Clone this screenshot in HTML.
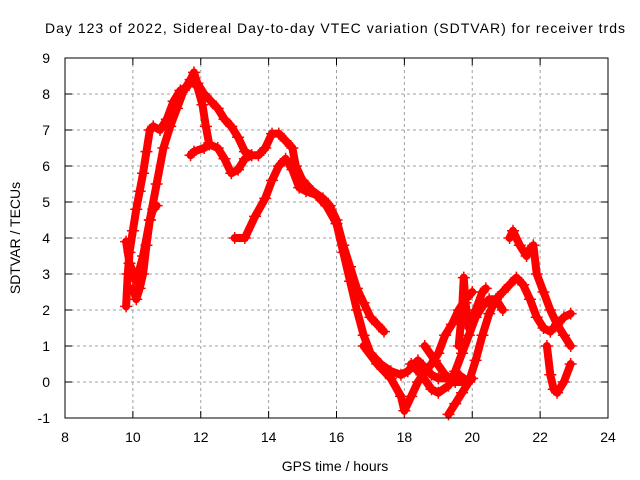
<!DOCTYPE html>
<html><head><meta charset="utf-8"><style>
body{margin:0;background:#fff;}
svg{display:block;font-family:"Liberation Sans",sans-serif;}
</style></head><body>
<svg id="chart" width="640" height="480" viewBox="0 0 640 480">
<text x="335" y="33" font-size="14" text-anchor="middle" textLength="580">Day 123 of 2022, Sidereal Day-to-day VTEC variation (SDTVAR) for receiver trds</text>
<text x="0" y="0" font-size="14" text-anchor="middle" transform="translate(20,238) rotate(-90)">SDTVAR / TECUs</text>
<text x="335" y="471" font-size="14" text-anchor="middle">GPS time / hours</text>
<g id="grid"></g><g id="ticks"></g><g id="marks"></g>
<rect x="65" y="58" width="543" height="360" fill="none" stroke="#000" stroke-width="1"/>
</svg>
<script>
const xTicks=[8,10,12,14,16,18,20,22,24];
const yTicks=[-1,0,1,2,3,4,5,6,7,8,9];
const track1=[[10.0,2.6],[10.1,2.3],[10.2,2.6],[10.3,3.0],[10.4,3.8],[10.5,4.5],[10.6,4.8],[10.7,4.9]];
const track2=[[9.8,2.1],[9.85,3.0],[9.9,3.6],[10.0,4.2],[10.1,4.8],[10.2,5.3],[10.3,5.8],[10.4,6.4],[10.5,7.0],[10.6,7.1],[10.8,7.0],[11.0,7.3],[11.2,7.8],[11.4,8.1],[11.6,8.2],[11.8,8.6],[11.9,8.3],[12.1,8.0],[12.3,7.8],[12.5,7.6],[12.7,7.3],[12.9,7.1],[13.1,6.8],[13.3,6.4],[13.5,6.3],[13.7,6.3],[13.9,6.5],[14.1,6.9],[14.3,6.9],[14.5,6.7],[14.7,6.5],[14.8,6.0],[15.0,5.6],[15.3,5.3],[15.6,5.1],[15.8,4.9],[16.0,4.5],[16.2,3.8],[16.4,3.2],[16.6,2.6],[16.8,2.2],[17.0,1.8],[17.2,1.6],[17.4,1.4]];
const track3=[[9.8,3.9],[9.9,3.3],[10.1,2.8],[10.3,3.5],[10.5,4.5],[10.7,5.5],[10.9,6.5],[11.1,7.1],[11.3,7.6],[11.5,8.1],[11.7,8.4],[11.9,8.2],[12.05,7.7],[12.15,7.1],[12.25,6.6],[12.1,6.5],[11.8,6.4],[11.7,6.3]];
const track4=[[12.25,6.6],[12.5,6.5],[12.7,6.2],[12.9,5.8],[13.1,5.9],[13.3,6.2],[13.5,6.3]];
const track5=[[13.0,4.0],[13.3,4.0],[13.6,4.6],[13.9,5.1],[14.1,5.6],[14.3,6.0],[14.5,6.2],[14.7,5.9],[14.9,5.4],[15.1,5.3],[15.4,5.2],[15.7,4.9],[16.0,4.4],[16.2,3.6],[16.4,2.8],[16.6,2.0],[16.8,1.3],[17.0,0.8],[17.3,0.5],[17.6,0.3],[17.9,0.2],[18.1,0.3],[18.4,0.6],[18.6,0.4],[18.8,0.2],[19.0,0.1],[19.3,0.1],[19.6,0.2],[19.9,0.0]];
const track6=[[16.8,1.0],[17.2,0.5],[17.6,0.1],[17.9,-0.4],[18.0,-0.8],[18.2,-0.4],[18.4,0.0],[18.6,0.3],[18.8,0.5],[19.0,0.8],[19.2,1.3],[19.4,1.6],[19.6,2.0],[19.8,2.3],[20.0,2.5]];
const track7=[[19.3,-0.9],[19.5,-0.6],[19.7,-0.3],[19.9,0.0],[20.1,0.6],[20.3,1.3],[20.5,1.9],[20.7,2.3],[20.9,2.5],[21.1,2.7],[21.3,2.9],[21.5,2.7],[21.7,2.3],[21.9,1.8],[22.1,1.5],[22.3,1.4],[22.5,1.6],[22.7,1.8],[22.9,1.9]];
const track8=[[18.2,0.5],[18.5,0.2],[18.8,-0.2],[19.0,-0.3],[19.3,-0.1],[19.5,0.3],[19.7,0.8],[19.9,1.3],[20.1,1.8],[20.3,2.1],[20.5,2.3],[20.7,2.3],[20.9,2.0]];
const track9=[[21.1,4.0],[21.2,4.2],[21.4,3.8],[21.6,3.5],[21.7,3.7],[21.8,3.8],[21.9,3.0],[22.1,2.5],[22.3,2.0],[22.5,1.6],[22.7,1.3],[22.9,1.0]];
const track10=[[22.2,1.0],[22.3,0.2],[22.4,-0.2],[22.5,-0.3],[22.7,0.0],[22.9,0.5]];
const track11=[[18.6,1.0],[18.9,0.6],[19.2,0.2],[19.5,0.0],[19.8,0.0],[20.0,0.1]];
const track12=[[19.6,1.0],[19.7,2.0],[19.75,2.9],[19.8,2.2],[19.9,1.5],[20.1,2.0],[20.3,2.5],[20.4,2.6]];
const tracks=[track1,track2,track3,track4,track5,track6,track7,track8,track9,track10,track11,track12];

const X0=65,X1=608,Y0=418,Y1=58;
function sx(h){return X0+(h-8)/16*(X1-X0);}
function sy(v){return Y0-(v+1)/10*(Y0-Y1);}
const NS="http://www.w3.org/2000/svg";
function mk(tag,attrs,parent){const e=document.createElementNS(NS,tag);for(const k in attrs)e.setAttribute(k,attrs[k]);parent.appendChild(e);return e;}
const grid=document.getElementById('grid'),ticks=document.getElementById('ticks'),marks=document.getElementById('marks');
xTicks.forEach(t=>{const x=sx(t);
 if(t>8&&t<24){const g=mk('line',{x1:x,x2:x,y1:Y1,y2:Y0,stroke:'#a0a0a0','stroke-dasharray':'3,3'},grid);
 
 }
 mk('line',{x1:x,x2:x,y1:Y0,y2:Y0-7,stroke:'#000'},ticks);
 mk('line',{x1:x,x2:x,y1:Y1,y2:Y1+7,stroke:'#000'},ticks);
 const l=mk('text',{x:x,y:442,'font-size':14,'text-anchor':'middle'},ticks);l.textContent=t;
 
 
});
yTicks.forEach(t=>{const y=sy(t);
 if(t>-1&&t<9){const g=mk('line',{x1:X0,x2:X1,y1:y,y2:y,stroke:'#a0a0a0','stroke-dasharray':'3,3'},grid);
 
 }
 mk('line',{x1:X0,x2:X0+7,y1:y,y2:y,stroke:'#000'},ticks);
 mk('line',{x1:X1,x2:X1-7,y1:y,y2:y,stroke:'#000'},ticks);
 const l=mk('text',{x:50,y:y+5,'font-size':14,'text-anchor':'end'},ticks);l.textContent=t;
 
 
});
tracks.forEach((tr,i)=>{
 const pts=tr.map(p=>sx(p[0])+','+sy(p[1])).join(' ');
 const pl=mk('polyline',{points:pts,fill:'none',stroke:'#ff0000','stroke-width':8,'stroke-linejoin':'round','stroke-linecap':'round'},marks);
 
 
 tr.forEach(p=>{const x=sx(p[0]),y=sy(p[1]);
  const m=mk('path',{d:`M${x-6},${y}H${x+6}M${x},${y-6}V${y+6}`,stroke:'#ff0000','stroke-width':1.5},marks);
  
  
 });
});
</script>
</body></html>
